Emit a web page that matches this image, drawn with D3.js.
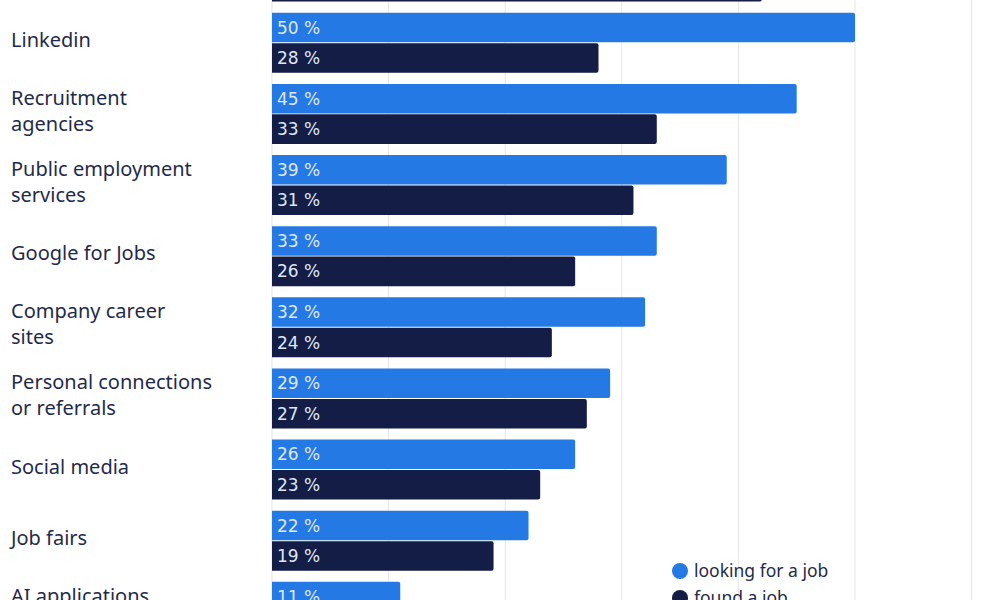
<!DOCTYPE html>
<html><head><meta charset="utf-8">
<script src="https://cdn.jsdelivr.net/npm/d3@7"></script>
<style>html,body{margin:0;padding:0;background:#fff;overflow:hidden}</style>
</head><body>
<svg id="c" width="1000" height="600"></svg>
<script>
const categories = ["Online job portals","Linkedin","Recruitment agencies","Public employment services","Google for Jobs","Company career sites","Personal connections or referrals","Social media","Job fairs","AI applications"];
const labelLines = [["Online job portals"],["Linkedin"],["Recruitment","agencies"],["Public employment","services"],["Google for Jobs"],["Company career","sites"],["Personal connections","or referrals"],["Social media"],["Job fairs"],["AI applications","(e.g. ChatGPT)"]];
const seriesNames = ["looking for a job","found a job"];
const lookingValues = [56,50,45,39,33,32,29,26,22,11];
const foundValues = [42,28,33,31,26,24,27,23,19,8];
const xTicks = [0,10,20,30,40,50,60];
const colors = ["#2479e4","#131d46"];

const svg = d3.select("#c");
const font = "'Noto Sans', sans-serif";
const x = d3.scaleLinear().domain([0,60]).range([272,971.6]);
const y0 = d3.scaleBand().domain(categories).range([-64,647.4]);
const y1 = d3.scaleBand().domain(seriesNames).range([5.6,65.6]).paddingInner(0.03);

svg.append("g").selectAll("line").data(xTicks).join("line")
  .attr("x1",d=>x(d)).attr("x2",d=>x(d)).attr("y1",0).attr("y2",600)
  .attr("stroke","#e6e6e6").attr("stroke-width",1);

const data = categories.map((c,i)=>({cat:c,vals:[lookingValues[i],foundValues[i]]}));
const g = svg.append("g").selectAll("g").data(data).join("g")
  .attr("transform",d=>`translate(0,${y0(d.cat)})`);

g.selectAll("path").data(d=>d.vals.map((v,j)=>({v,s:seriesNames[j],j}))).join("path")
  .attr("d",d=>{
    const x0=x(0), x1=x(d.v), yy=y1(d.s), h=y1.bandwidth(), r=2;
    return `M${x0},${yy}H${x1-r}Q${x1},${yy} ${x1},${yy+r}V${yy+h-r}Q${x1},${yy+h} ${x1-r},${yy+h}H${x0}Z`;
  })
  .attr("fill",d=>colors[d.j]);

g.selectAll("text.v").data(d=>d.vals.map((v,j)=>({v,s:seriesNames[j],j}))).join("text")
  .attr("class","v")
  .attr("x",x(0)+5).attr("y",d=>y1(d.s)+y1.bandwidth()/2)
  .attr("dy","0.36em")
  .attr("font-family","'DejaVu Sans', sans-serif").attr("font-size",17)
  .attr("fill","#dfe7f5")
  .text(d=>d.v+" %");

const lab = svg.append("g").selectAll("text").data(categories).join("text")
  .attr("x",11)
  .attr("font-family",font).attr("font-size",20).attr("fill","#1f2a4a")
  .attr("y",d=>y0(d)+y0.bandwidth()/2-3);
lab.each(function(d,i){
  const lines = labelLines[i];
  const t = d3.select(this);
  lines.forEach((l,k)=>{
    t.append("tspan").attr("x",11)
     .attr("dy", k===0 ? ((-(lines.length-1)*13)/20+0.35)+"em" : "1.3em")
     .text(l);
  });
});

const leg = svg.append("g").selectAll("g").data(seriesNames).join("g")
  .attr("transform",(d,i)=>`translate(680,${571+i*27})`);
leg.append("circle").attr("r",8).attr("fill",(d,i)=>colors[i]);
leg.append("text").attr("x",14).attr("dy","0.35em")
  .attr("font-family",font).attr("font-size",17.5).attr("fill","#1f2a4a").text(d=>d);
</script>
</body></html>
